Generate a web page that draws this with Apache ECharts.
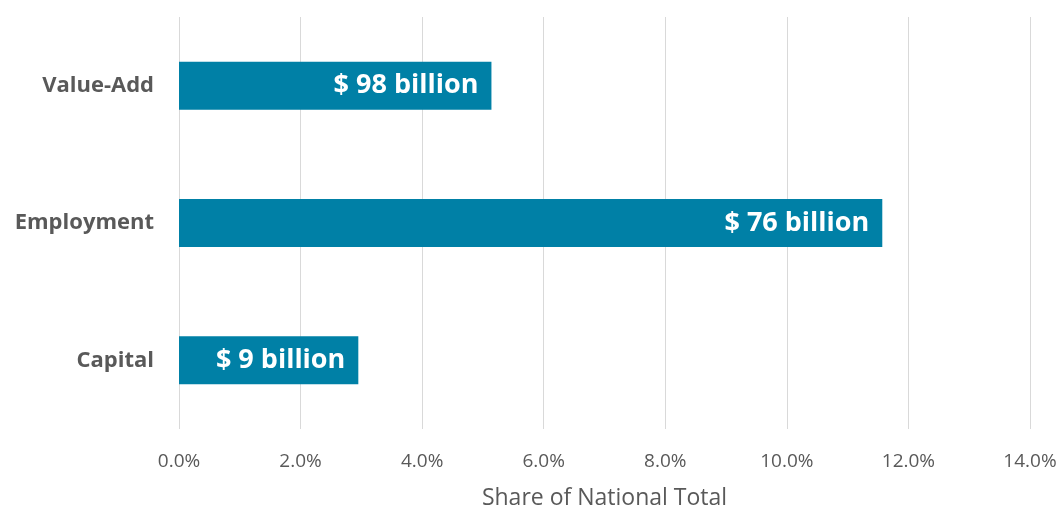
<!DOCTYPE html>
<html><head><meta charset="utf-8">
<script src="https://cdn.jsdelivr.net/npm/echarts@6/dist/echarts.min.js"></script>
<style>html,body{margin:0;padding:0;background:#fff}#c{width:1061px;height:508px}</style>
</head><body><div id="c"></div>
<script>
const categories = ['Capital', 'Employment', 'Value-Add'];
const shareValues = [2.95, 11.57, 5.14];
const barLabels = ['$ 9 billion', '$ 76 billion', '$ 98 billion'];
const xTicks = { min: 0, max: 14, interval: 2 };

const chart = echarts.init(document.getElementById('c'));
chart.setOption({
  animation: false,
  grid: { left: 179, right: 31, top: 17, bottom: 79, outerBoundsMode: 'none', containLabel: false },
  xAxis: {
    type: 'value', min: xTicks.min, max: xTicks.max, interval: xTicks.interval,
    name: 'Share of National Total', nameLocation: 'middle', nameGap: 58,
    nameTextStyle: { fontFamily: 'Open Sans', fontSize: 23, color: '#595959' },
    axisLine: { show: false }, axisTick: { show: false },
    axisLabel: { formatter: v => v.toFixed(1) + '%', fontFamily: 'Open Sans', fontSize: 19, color: '#595959', margin: 23 },
    splitLine: { lineStyle: { color: '#d9d9d9', width: 1 } }
  },
  yAxis: {
    type: 'category', data: categories,
    axisLine: { show: false }, axisTick: { show: false },
    axisLabel: { fontFamily: 'Open Sans', fontWeight: 'bold', fontSize: 22, color: '#595959', margin: 25 }
  },
  series: [{
    type: 'bar', data: shareValues, barWidth: 48,
    itemStyle: { color: '#0080A6' },
    label: {
      show: true, position: 'insideRight', distance: 13,
      formatter: p => barLabels[p.dataIndex],
      fontFamily: 'Open Sans', fontWeight: 'bold', fontSize: 27, color: '#fff'
    }
  }]
});
</script></body></html>
